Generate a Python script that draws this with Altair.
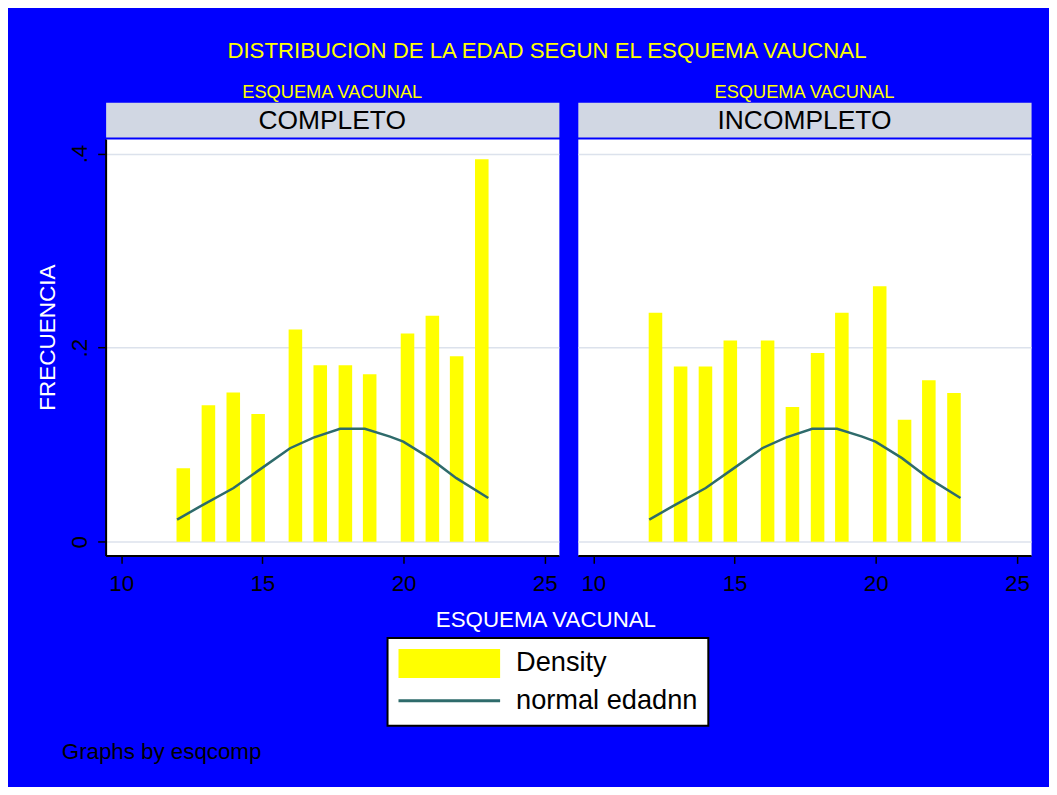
import altair as alt
import pandas as pd

# ---------------- data ----------------
panels = ["COMPLETO", "INCOMPLETO"]
bin_centers = [12.2, 13.09, 13.97, 14.85, 16.17, 17.05, 17.94, 18.8, 20.14, 21.02, 21.88, 22.77]
density_completo = [0.0759, 0.1408, 0.1538, 0.1316, 0.2188, 0.1818, 0.1818, 0.1726, 0.2147, 0.2328, 0.1911, 0.3941]
density_incompleto = [0.2359, 0.1805, 0.1805, 0.2075, 0.2075, 0.1388, 0.1945, 0.2359, 0.2632, 0.1257, 0.1665, 0.1532]
normal_x = [11.98, 12.80, 13.98, 14.98, 15.98, 16.81, 17.75, 18.63, 19.52, 19.99, 20.93, 21.87, 23.0]
normal_y = [0.0229, 0.0365, 0.0554, 0.0759, 0.0964, 0.1073, 0.1165, 0.1165, 0.1083, 0.1032, 0.0862, 0.0656, 0.0451]
x_ticks = [10, 15, 20, 25]
y_ticks = [0, 0.2, 0.4]
legend_labels = ["Density", "normal edadnn"]
title_text = "DISTRIBUCION DE LA EDAD SEGUN EL ESQUEMA VAUCNAL"
facet_title = "ESQUEMA VACUNAL"
x_title = "ESQUEMA VACUNAL"
y_title = "FRECUENCIA"
note_text = "Graphs by esqcomp"

# ---------------- style ----------------
FONT = "Liberation Sans"
BLUE = "#0000FF"
YELLOW = "#FFFF00"
TEAL = "#2E6B6B"
HEADER = "#D1D7E3"
GRID = "#DCE2EC"
BAR_W = 0.48
PW, PH = 455, 418
HH = 35

xscale = alt.Scale(domain=[9.45, 25.5], nice=False, zero=False)
yscale = alt.Scale(domain=[-0.014, 0.415], nice=False, zero=False)

x_axis = alt.Axis(values=x_ticks, labelFontSize=22.4, labelColor="black", labelPadding=9,
                  tickSize=8, tickColor="black", tickWidth=1.5, domainColor="black",
                  domainWidth=2, grid=False, labelFlush=False, labelFont=FONT)


def make_panel(i, name, dens):
    bars = pd.DataFrame({
        "x0": [c - BAR_W / 2 for c in bin_centers],
        "x1": [c + BAR_W / 2 for c in bin_centers],
        "d": dens,
    })
    curve = pd.DataFrame({"nx": normal_x, "ny": normal_y})
    if i == 0:
        y_axis = alt.Axis(values=y_ticks,
                          labelExpr="datum.value == 0 ? '0' : replace(format(datum.value, '.1f'), '0.', '.')",
                          labelAngle=270, labelAlign="center", labelBaseline="alphabetic",
                          labelPadding=11, labelFontSize=22.4, labelColor="black", labelFont=FONT,
                          tickSize=8, tickColor="black", tickWidth=1.5,
                          domainColor="black", domainWidth=2,
                          grid=True, gridColor=GRID, gridWidth=1.5,
                          titleColor="white", titleFontSize=22.6, titleFontWeight="normal",
                          titleFont=FONT, titleAngle=270, titleAlign="center",
                          titleBaseline="alphabetic", titleX=-51, titleY=199)
        ytitle = y_title
    else:
        y_axis = alt.Axis(values=y_ticks, labels=False, ticks=False, domain=False,
                          grid=True, gridColor=GRID, gridWidth=1.5)
        ytitle = None
    bar_layer = alt.Chart(bars).mark_rect(color=YELLOW).encode(
        x=alt.X("x0:Q", scale=xscale, axis=x_axis, title=None),
        x2="x1",
        y=alt.Y("d:Q", scale=yscale, axis=y_axis, title=ytitle),
        y2=alt.datum(0),
    )
    line_layer = alt.Chart(curve).mark_line(color=TEAL, strokeWidth=2.5).encode(
        x=alt.X("nx:Q", scale=xscale),
        y=alt.Y("ny:Q", scale=yscale),
    )
    plot = alt.layer(bar_layer, line_layer).properties(
        width=PW, height=PH,
        view=alt.ViewBackground(fill="white", stroke="transparent"),
    )
    header = alt.Chart(pd.DataFrame({"panel": [name]})).mark_text(
        fontSize=26.5, color="black", font=FONT, baseline="middle", align="center"
    ).encode(
        text="panel:N", x=alt.value(PW / 2), y=alt.value(HH / 2 + 1)
    ).properties(
        width=PW, height=HH,
        view=alt.ViewBackground(fill=HEADER, stroke="transparent"),
        title=alt.TitleParams(facet_title, color=YELLOW, fontSize=18.3, font=FONT,
                              fontWeight="normal", offset=0, anchor="middle"),
    )
    return alt.vconcat(header, plot, spacing=0)


left = make_panel(0, panels[0], density_completo)
right = make_panel(1, panels[1], density_incompleto)
panels_row = alt.hconcat(left, right, spacing=17)

# ---------------- bottom: x title, legend, note ----------------
BW, BH = 927, 165
one = pd.DataFrame({"k": [0]})
# invisible spacer fixing the left extent of the layout (97 px left of the plot areas)
spacer = alt.Chart(one).mark_rect(opacity=0).encode(
    x=alt.value(-97), x2=alt.value(-96), y=alt.value(0), y2=alt.value(1))
xt = alt.Chart(one).mark_text(text=x_title, color="white", fontSize=22.4, font=FONT,
                              align="center", baseline="middle").encode(
    x=alt.value(442), y=alt.value(23))
box = alt.Chart(one).mark_rect(fill="white", stroke="black", strokeWidth=2).encode(
    x=alt.value(283), x2=alt.value(605), y=alt.value(41), y2=alt.value(129))
key_rect = alt.Chart(one).mark_rect(color=YELLOW).encode(
    x=alt.value(294), x2=alt.value(396), y=alt.value(52), y2=alt.value(81))
key_line = alt.Chart(one).mark_rule(color=TEAL, strokeWidth=3).encode(
    x=alt.value(294), x2=alt.value(396), y=alt.value(104))
key_text = alt.Chart(pd.DataFrame({"label": legend_labels})).mark_text(
    align="left", baseline="middle", fontSize=27.3, font=FONT, color="black").encode(
    text="label:N",
    x=alt.value(412),
    y=alt.Y("label:N", axis=None,
            scale=alt.Scale(type="point", domain=legend_labels, range=[66, 104], padding=0)),
)
note = alt.Chart(one).mark_text(text=note_text, align="left", baseline="alphabetic",
                                fontSize=22.4, font=FONT, color="black").encode(
    x=alt.value(-44), y=alt.value(162))
bottom = alt.layer(spacer, xt, box, key_rect, key_line, key_text, note).properties(
    width=BW, height=BH,
    view=alt.ViewBackground(fill="transparent", stroke="transparent"),
)

chart = alt.vconcat(panels_row, bottom, spacing=1).properties(
    title=alt.TitleParams(title_text, color=YELLOW, fontSize=22.3, font=FONT,
                          fontWeight="normal", anchor="middle", offset=20, dx=27),
    background=BLUE,
    padding={"left": 0, "top": 30, "right": 17, "bottom": 22},
).configure_view(stroke="transparent")

chart.save("out.html", embed_options={"renderer": "svg", "actions": False})
